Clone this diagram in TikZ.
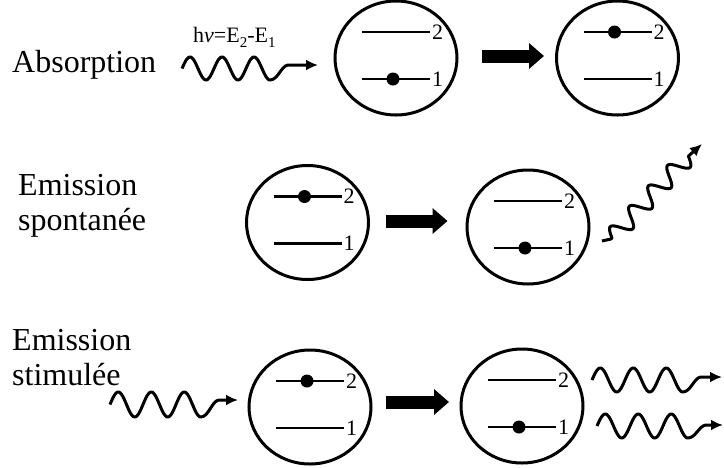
\documentclass[tikz,border=0pt]{standalone}
\usepackage{fontspec}
\setmainfont{Liberation Serif}
\usetikzlibrary{shapes.geometric,arrows.meta,calc}
\tikzset{
  atom/.style={draw, ellipse, line width=3pt, minimum width=122pt, minimum height=114pt, inner sep=0pt, outer sep=0pt},
  levelline/.style={line width=2.3pt},
  lvlnum/.style={anchor=west, inner sep=1pt, font=\fontsize{22}{22}\selectfont},
  electron/.style={fill=black},
  bigarrow/.style={line width=13pt, -{Triangle[length=15pt,width=25pt]}},
  photon/.style={line width=3pt, line join=round, -{Latex[length=12pt,width=11pt]}},
  proclabel/.style={anchor=base west, inner sep=0pt, font=\fontsize{32}{35}\selectfont}
}
\newcommand\lowsub[1]{\raisebox{-5pt}{\fontsize{15}{15}\selectfont #1}}
\newcommand\drawatom[4]{%
  \node[atom] (#1) at (#2,#3) {};
  \draw[levelline] ($(#1)+(-34,-26)$) -- ++(68,0) node[lvlnum]{2};
  \draw[levelline] ($(#1)+(-34,21)$) -- ++(68,0) node[lvlnum]{1};
  \ifnum#4=2 \fill[electron] ($(#1)+(-3,-26)$) circle (6.5);\else\fill[electron] ($(#1)+(-3,21)$) circle (6.5);\fi
}
% x0, yc, period, amplitude, tip x, tip y
\newcommand\wavyright[6]{%
  \draw[photon] plot[domain=0:2.75*#3, samples=90, smooth, variable=\t] ({#1+\t}, {#2-#4*sin(\t/#3*360)})
    .. controls +(8,0) and +(-7,1) .. ({#1+2.75*#3+18}, #6) -- (#5,#6);
}
\begin{document}
\begin{tikzpicture}[x=1pt, y=-1pt]
\useasboundingbox (0,0) rectangle (724,467);

% labels
\node[proclabel] (abs) at (12,72) {Absorption};
\node[anchor=base west, inner sep=0pt, font=\fontsize{22}{22}\selectfont] (energy) at (193,42) {h\textit{ν}=E\lowsub{2}-E\lowsub{1}};
\node[proclabel] (em1) at (18,195) {Emission};
\node[proclabel] (sp) at (18,230) {spontanée};
\node[proclabel] (em2) at (12,350) {Emission};
\node[proclabel] (st) at (12,385) {stimulée};

% atoms
\drawatom{A1}{396}{58}{1}
\drawatom{A2}{617.5}{58}{2}
\drawatom{S1}{307.5}{222.5}{2}
\drawatom{S2}{528}{227}{1}
\drawatom{T1}{310}{407}{2}
\drawatom{T2}{522}{406}{1}

% transitions
\draw[bigarrow] ($(A1.east)+(25,-2)$) -- ++(62,0);
\draw[bigarrow] ($(S1.east)+(17,-1.5)$) -- ++(62,0);
\draw[bigarrow] ($(T1.east)+(15,-5)$) -- ++(63,0);

% photons
\wavyright{182}{68.5}{32}{11.5}{318}{65}
\wavyright{110}{404.5}{33}{12.5}{238}{400}
\wavyright{592}{380}{33}{12}{722}{377}
\wavyright{597}{426}{33}{12}{723}{425}
\draw[photon] (602,241) -- (611,239) -- plot[domain=0:112, samples=100, smooth, variable=\t]
  ({612+0.682*\t-9*sin(\t/28*360)*0.731}, {238-0.731*\t-9*sin(\t/28*360)*0.682}) -- (702,144);
\end{tikzpicture}
\end{document}
